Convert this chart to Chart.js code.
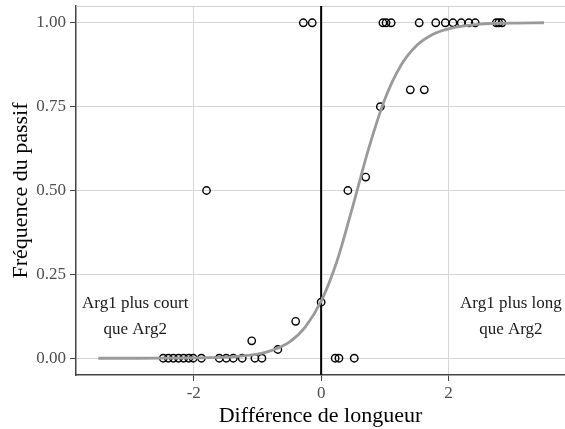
<!DOCTYPE html>
<html>
<head>
<meta charset="utf-8">
<script src="https://cdn.jsdelivr.net/npm/chart.js@4/dist/chart.umd.min.js"></script>
<style>
  html, body { margin: 0; padding: 0; background: #fff; overflow: hidden; }
</style>
</head>
<body>
<canvas id="chart" width="565" height="429"></canvas>
<script>
// observed proportions (one circle per item)
const obsX = [
  -2.48, -2.40, -2.32, -2.24, -2.16, -2.08, -2.01, -1.88,
  -1.60, -1.49, -1.38, -1.24, -1.04, -0.93,
  0.22, 0.28, 0.52,
  -1.80, -1.09, -0.68, -0.40, 0.00, 0.42, 0.70, 0.93, 1.40, 1.62,
  -0.28, -0.14, 0.97, 1.02, 1.10, 1.54, 1.80, 1.95, 2.07, 2.20, 2.32, 2.42, 2.75, 2.79, 2.84
];
const obsY = [
  0, 0, 0, 0, 0, 0, 0, 0,
  0, 0, 0, 0, 0, 0,
  0, 0, 0,
  0.50, 0.052, 0.026, 0.11, 0.167, 0.50, 0.54, 0.75, 0.80, 0.80,
  1, 1, 1, 1, 1, 1, 1, 1, 1, 1, 1, 1, 1, 1, 1
];

// fitted curve
const fitX = [-3.5, -3, -2.5, -2, -1.5, -1, -0.75, -0.5, -0.25, 0, 0.25, 0.5, 0.75, 1, 1.25, 1.5, 1.75, 2, 2.5, 3, 3.5];
const fitY = [0, 0, 0.0002, 0.001, 0.003, 0.012, 0.025, 0.048, 0.093, 0.17, 0.29, 0.455, 0.627, 0.772, 0.872, 0.932, 0.965, 0.982, 0.996, 0.999, 1];

const xTicks = [-2, 0, 2];
const xTickLabels = ['-2', '0', '2'];
const yTicks = [0, 0.25, 0.5, 0.75, 1];
const yTickLabels = ['0.00', '0.25', '0.50', '0.75', '1.00'];

const vlineAt = 0;
const noteText = [['Arg1 plus court', 'que Arg2'], ['Arg1 plus long', 'que Arg2']];
const noteX = [-2.92, 2.98];
const noteY = [0.123, 0.123];

const serif = "'Liberation Serif', 'DejaVu Serif', serif";

const extras = {
  id: 'extras',
  beforeDatasetsDraw(chart) {
    const { ctx, chartArea: a, scales: { x } } = chart;
    ctx.save();
    // top panel edge
    ctx.strokeStyle = '#d0d0d0';
    ctx.lineWidth = 1;
    ctx.beginPath();
    ctx.moveTo(a.left, a.top + 0.5);
    ctx.lineTo(a.right, a.top + 0.5);
    ctx.stroke();
    // vertical reference line
    const px = x.getPixelForValue(vlineAt);
    ctx.strokeStyle = '#000';
    ctx.lineWidth = 2;
    ctx.beginPath();
    ctx.moveTo(px, a.top);
    ctx.lineTo(px, a.bottom);
    ctx.stroke();
    ctx.restore();
  },
  afterDatasetsDraw(chart) {
    const { ctx, scales: { x, y } } = chart;
    ctx.save();
    ctx.font = '17px ' + serif;
    ctx.fillStyle = '#1a1a1a';
    ctx.textAlign = 'center';
    ctx.textBaseline = 'middle';
    noteText.forEach((lines, i) => {
      const cx = x.getPixelForValue(noteX[i]);
      const cy = y.getPixelForValue(noteY[i]);
      lines.forEach((t, j) => {
        ctx.fillText(t, cx, cy + (j - (lines.length - 1) / 2) * 26);
      });
    });
    ctx.restore();
  }
};

const noPad = s => { s.paddingLeft = 0; s.paddingRight = 0; s.paddingTop = 0; s.paddingBottom = 0; };

new Chart(document.getElementById('chart'), {
  type: 'scatter',
  data: {
    datasets: [
      {
        label: 'fit',
        data: fitX.map((v, i) => ({ x: v, y: fitY[i] })),
        showLine: true,
        borderColor: '#9a9a9a',
        borderWidth: 2.8,
        pointRadius: 0,
        cubicInterpolationMode: 'monotone',
        order: 0
      },
      {
        label: 'obs',
        data: obsX.map((v, i) => ({ x: v, y: obsY[i] })),
        pointRadius: 3.7,
        borderWidth: 1.4,
        borderColor: '#000',
        backgroundColor: 'rgba(0,0,0,0)',
        order: 1
      }
    ]
  },
  options: {
    responsive: false,
    animation: false,
    layout: { autoPadding: false, padding: { top: 6, right: 0, left: 0, bottom: 0 } },
    plugins: { legend: { display: false }, tooltip: { enabled: false } },
    scales: {
      x: {
        type: 'linear',
        min: -3.85,
        max: 3.83,
        afterBuildTicks: s => { s.ticks = xTicks.map(v => ({ value: v })); },
        afterFit: s => { s.height = 54; noPad(s); },
        grid: { color: '#d6d6d6', lineWidth: 1, tickColor: '#444', tickLength: 6 },
        border: { color: '#444', width: 1.5 },
        ticks: {
          font: { family: serif, size: 17 },
          color: '#4d4d4d',
          padding: 2,
          maxRotation: 0,
          callback: v => xTickLabels[xTicks.indexOf(v)]
        },
        title: {
          display: true,
          text: 'Différence de longueur',
          font: { family: serif, size: 22 },
          color: '#000',
          padding: { top: 0, bottom: 0 }
        }
      },
      y: {
        type: 'linear',
        min: -0.05,
        max: 1.05,
        afterBuildTicks: s => { s.ticks = yTicks.map(v => ({ value: v })); },
        afterFit: s => { s.width = 76; noPad(s); },
        grid: { color: '#d6d6d6', lineWidth: 1, tickColor: '#444', tickLength: 6 },
        border: { color: '#444', width: 1.5 },
        ticks: {
          font: { family: serif, size: 17 },
          color: '#4d4d4d',
          padding: 4,
          callback: v => yTickLabels[yTicks.indexOf(v)]
        },
        title: {
          display: true,
          text: 'Fréquence du passif',
          font: { family: serif, size: 22 },
          color: '#000',
          padding: { top: 8, bottom: 0 }
        }
      }
    }
  },
  plugins: [extras]
});
</script>
</body>
</html>
